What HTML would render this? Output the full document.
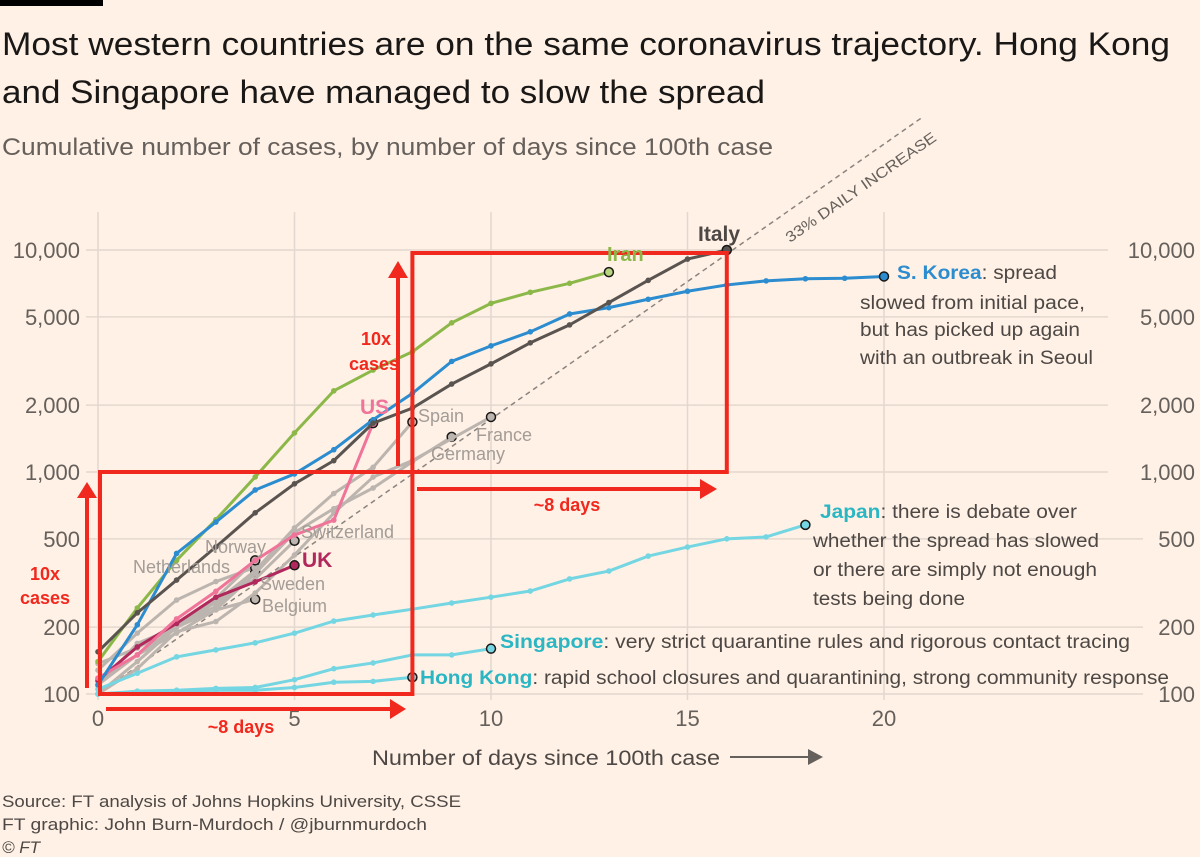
<!DOCTYPE html>
<html><head><meta charset="utf-8"><style>
html,body{margin:0;padding:0;background:#fff1e5;}
svg{display:block;font-family:"Liberation Sans",sans-serif;}
</style></head><body>
<svg id="chart" width="1200" height="857" viewBox="0 0 1200 857">
<rect x="0" y="0" width="1200" height="857" fill="#fff1e5"/>
<rect x="0" y="0" width="103" height="6" fill="#000"/>
<text x="2" y="55" font-size="32" fill="#1a1817" textLength="1168" lengthAdjust="spacingAndGlyphs">Most western countries are on the same coronavirus trajectory. Hong Kong</text>
<text x="2" y="103" font-size="32" fill="#1a1817" textLength="763" lengthAdjust="spacingAndGlyphs">and Singapore have managed to slow the spread</text>
<text x="2" y="155" font-size="24" fill="#66605c" textLength="771" lengthAdjust="spacingAndGlyphs">Cumulative number of cases, by number of days since 100th case</text>
<g id="grid"></g>
<g id="annot-bg"></g>
<g id="series"></g>
<g id="labels"></g>
<text x="372" y="765" font-size="21" fill="#4d4845" textLength="348" lengthAdjust="spacingAndGlyphs">Number of days since 100th case</text>
<line x1="730" y1="757" x2="812" y2="757" stroke="#66605c" stroke-width="2"/>
<polygon points="808,749 823,757 808,765" fill="#66605c"/>
<text x="2" y="807" font-size="17" fill="#4d4845" textLength="459" lengthAdjust="spacingAndGlyphs">Source: FT analysis of Johns Hopkins University, CSSE</text>
<text x="2" y="830" font-size="17" fill="#4d4845" textLength="425" lengthAdjust="spacingAndGlyphs">FT graphic: John Burn-Murdoch / @jburnmurdoch</text>
<text x="2" y="853" font-size="17" font-style="italic" fill="#4d4845">© FT</text>
</svg>
<script>
const yTicks=[100,200,500,1000,2000,5000,10000];
const yTickLabels=["100","200","500","1,000","2,000","5,000","10,000"];
const xTicks=[0,5,10,15,20];
const italy=[155,232,326,460,655,885,1125,1660,1940,2490,3070,3820,4600,5800,7300,9100,10000];
const iran=[140,244,400,610,950,1500,2320,2880,3480,4700,5750,6450,7080,7950];
const korea=[110,205,430,595,830,980,1260,1720,2260,3150,3700,4280,5150,5500,6000,6520,6960,7260,7420,7460,7600];
const japan=[105,124,147,158,170,188,213,227,241,257,273,291,330,358,418,459,500,510,578];
const singapore=[100,103,104,106,107,116,130,138,150,150,160];
const hongkong=[100,102,103,104,104,107,113,114,119];
const us=[118,150,218,290,400,520,607,1660];
const uk=[115,163,208,273,320,380];
const spain=[114,150,200,260,360,560,800,1050,1680];
const france=[100,130,191,212,285,423,653,949,1126,1412,1770];
const germany=[117,150,188,240,349,534,684,847,1112,1440];
const switzerland=[100,140,200,260,330,490];
const norway=[110,150,200,270,400];
const netherlands=[128,188,265,321,372];
const belgium=[109,169,200,239,267];
const sweden=[137,161,203,248,355];
const dailyGrowth=1.33;
const guideDays=21;

const NS="http://www.w3.org/2000/svg";
function X(d){return 98+39.3*d;}
function Y(v){return 694-222*Math.log10(v/100);}
function mk(tag,attrs,parent){const e=document.createElementNS(NS,tag);for(const k in attrs)e.setAttribute(k,attrs[k]);parent.appendChild(e);return e;}
const grid=document.getElementById('grid');
const series=document.getElementById('series');
const labels=document.getElementById('labels');

xTicks.forEach(function(d){
  const l=mk('line',{x1:X(d),x2:X(d),y1:212,y2:700,stroke:'#e3d8cf','stroke-width':1.5},grid);
  
  
  const t=mk('text',{x:X(d),y:726,'font-size':22,fill:'#66605c','text-anchor':'middle'},grid);
  
  
  t.textContent=String(d);
});
yTicks.forEach(function(v,i){
  const wide=v>=1000;
  const l=mk('line',{x1:86,x2:wide?1108:1143,y1:Y(v),y2:Y(v),stroke:'#e3d8cf','stroke-width':1.5},grid);
  
  
  const t=mk('text',{x:80,y:Y(v)+8,'font-size':22,fill:'#66605c','text-anchor':'end'},grid);
  
  
  t.textContent=yTickLabels[i];
  const t2=mk('text',{x:1195,y:Y(v)+8,'font-size':22,fill:'#66605c','text-anchor':'end'},grid);
  
  
  t2.textContent=yTickLabels[i];
});

// guide line
const g=mk('line',{x1:X(0),y1:Y(100),x2:X(guideDays),y2:Y(100*Math.pow(dailyGrowth,guideDays)),stroke:'#8a837e','stroke-width':1.5,'stroke-dasharray':'5,4'},series);


const gt=mk('text',{x:0,y:0,'font-size':15,fill:'#66605c',transform:'translate(790,243) rotate(-35)',textLength:180,lengthAdjust:'spacingAndGlyphs'},series);


gt.textContent='33% DAILY INCREASE';

function drawSeries(name,data,color,endFill){
  const pts=data.map(function(v,d){return X(d)+','+Y(v);}).join(' ');
  const p=mk('polyline',{points:pts,fill:'none',stroke:color,'stroke-width':3,'stroke-linejoin':'round','stroke-linecap':'round'},series);
  
  
  data.forEach(function(v,d){
    if(d===data.length-1)return;
    const c=mk('circle',{cx:X(d),cy:Y(v),r:2.8,fill:color},series);
    
    
  });
  const n=data.length-1;
  const e=mk('circle',{cx:X(n),cy:Y(data[n]),r:4.5,fill:endFill||color,stroke:'#1a1817','stroke-width':1.5},series);
  
  
}
const grey='#bcb5af';
drawSeries('belgium',belgium,grey,'#bdb5ae');
drawSeries('sweden',sweden,grey);
drawSeries('netherlands',netherlands,grey);
drawSeries('norway',norway,grey);
drawSeries('switzerland',switzerland,grey);
drawSeries('germany',germany,grey);
drawSeries('france',france,grey);
drawSeries('spain',spain,grey);
drawSeries('hong-kong',hongkong,'#74d6e2');
drawSeries('singapore',singapore,'#74d6e2');
drawSeries('japan',japan,'#74d6e2');
drawSeries('uk',uk,'#b1285c');
drawSeries('us',us,'#f0749a');
drawSeries('iran',iran,'#8cb84a','#b7d47e');
drawSeries('korea',korea,'#2b8ccf');
drawSeries('italy',italy,'#5a5450');

// red boxes and arrows
const red='#f0281e';
function rr(tag,a,name){const e=mk(tag,a,series);return e;}
rr('rect',{x:X(0)+2,y:Y(1000),width:X(8)-X(0)-2,height:Y(100)-Y(1000),fill:'none',stroke:red,'stroke-width':4},'red-box-1');
rr('rect',{x:X(8),y:Y(10000)+3,width:X(16)-X(8),height:Y(1000)-Y(10000)-3,fill:'none',stroke:red,'stroke-width':4},'red-box-2');
rr('line',{x1:87,y1:688,x2:87,y2:495,stroke:red,'stroke-width':4},'vertical-arrow-1');
rr('polygon',{points:'77,498 87,482 97,498',fill:red},'vertical-arrow-1-head');
rr('line',{x1:398,y1:466,x2:398,y2:275,stroke:red,'stroke-width':4},'vertical-arrow-2');
rr('polygon',{points:'388,278 398,261 408,278',fill:red},'vertical-arrow-2-head');
rr('line',{x1:106,y1:709,x2:392,y2:709,stroke:red,'stroke-width':4},'horizontal-arrow-1');
rr('polygon',{points:'390,699 406,709 390,719',fill:red},'horizontal-arrow-1-head');
rr('line',{x1:417,y1:489,x2:702,y2:489,stroke:red,'stroke-width':4},'horizontal-arrow-2');
rr('polygon',{points:'700,479 717,489 700,499',fill:red},'horizontal-arrow-2-head');

function txt(x,y,s,opts,name){
  const t=mk('text',Object.assign({x:x,y:y,'font-size':19,fill:'#4d4845'},opts||{}),labels);
  
  
  t.innerHTML=s;return t;
}
txt(45,580,'10x',{fill:red,'font-weight':'bold','font-size':18,'text-anchor':'middle'},'tenx-label-1');
txt(45,604,'cases',{fill:red,'font-weight':'bold','font-size':18,'text-anchor':'middle'},'cases-label-1');
txt(376,345,'10x',{fill:red,'font-weight':'bold','font-size':18,'text-anchor':'middle'},'tenx-label-2');
txt(374,370,'cases',{fill:red,'font-weight':'bold','font-size':18,'text-anchor':'middle'},'cases-label-2');
txt(241,733,'~8 days',{fill:red,'font-weight':'bold','font-size':18,'text-anchor':'middle'},'days-label-1');
txt(567,511,'~8 days',{fill:red,'font-weight':'bold','font-size':18,'text-anchor':'middle'},'days-label-2');

txt(698,241,'Italy',{fill:'#4d4845','font-weight':'bold','font-size':21},'italy-label');
txt(607,261,'Iran',{fill:'#8cb84a','font-weight':'bold','font-size':20},'iran-label');
txt(360,414,'US',{fill:'#f0749a','font-weight':'bold','font-size':21},'us-label');
txt(302,567,'UK',{fill:'#b1285c','font-weight':'bold','font-size':21},'uk-label');
const gl='#a39c97';
txt(418,422,'Spain',{fill:gl,'font-size':18},'spain-label');
txt(476,441,'France',{fill:gl,'font-size':18},'france-label');
txt(431,460,'Germany',{fill:gl,'font-size':18},'germany-label');
txt(301,538,'Switzerland',{fill:gl,'font-size':18},'switzerland-label');
txt(205,553,'Norway',{fill:gl,'font-size':18},'norway-label');
txt(133,573,'Netherlands',{fill:gl,'font-size':18},'netherlands-label');
txt(260,590,'Sweden',{fill:gl,'font-size':18},'sweden-label');
txt(262,612,'Belgium',{fill:gl,'font-size':18},'belgium-label');

txt(897,279,'<tspan fill="#2b8ccf" font-weight="bold">S. Korea</tspan>: spread',{textLength:160,lengthAdjust:'spacingAndGlyphs'},'korea-annotation-1');
txt(860,309,'slowed from initial pace,',{textLength:225,lengthAdjust:'spacingAndGlyphs'},'korea-annotation-2');
txt(860,336,'but has picked up again',{textLength:220,lengthAdjust:'spacingAndGlyphs'},'korea-annotation-3');
txt(860,364,'with an outbreak in Seoul',{textLength:233,lengthAdjust:'spacingAndGlyphs'},'korea-annotation-4');
txt(820,518,'<tspan fill="#2bb6c4" font-weight="bold">Japan</tspan>: there is debate over',{textLength:257,lengthAdjust:'spacingAndGlyphs'},'japan-annotation-1');
txt(813,547,'whether the spread has slowed',{textLength:286,lengthAdjust:'spacingAndGlyphs'},'japan-annotation-2');
txt(813,576,'or there are simply not enough',{textLength:284,lengthAdjust:'spacingAndGlyphs'},'japan-annotation-3');
txt(813,605,'tests being done',{textLength:152,lengthAdjust:'spacingAndGlyphs'},'japan-annotation-4');
txt(500,648,'<tspan fill="#2bb6c4" font-weight="bold">Singapore</tspan>: very strict quarantine rules and rigorous contact tracing',{textLength:630,lengthAdjust:'spacingAndGlyphs'},'singapore-annotation');
txt(420,684,'<tspan fill="#2bb6c4" font-weight="bold">Hong Kong</tspan>: rapid school closures and quarantining, strong community response',{textLength:749,lengthAdjust:'spacingAndGlyphs'},'hong-kong-annotation');
</script>
</body></html>
